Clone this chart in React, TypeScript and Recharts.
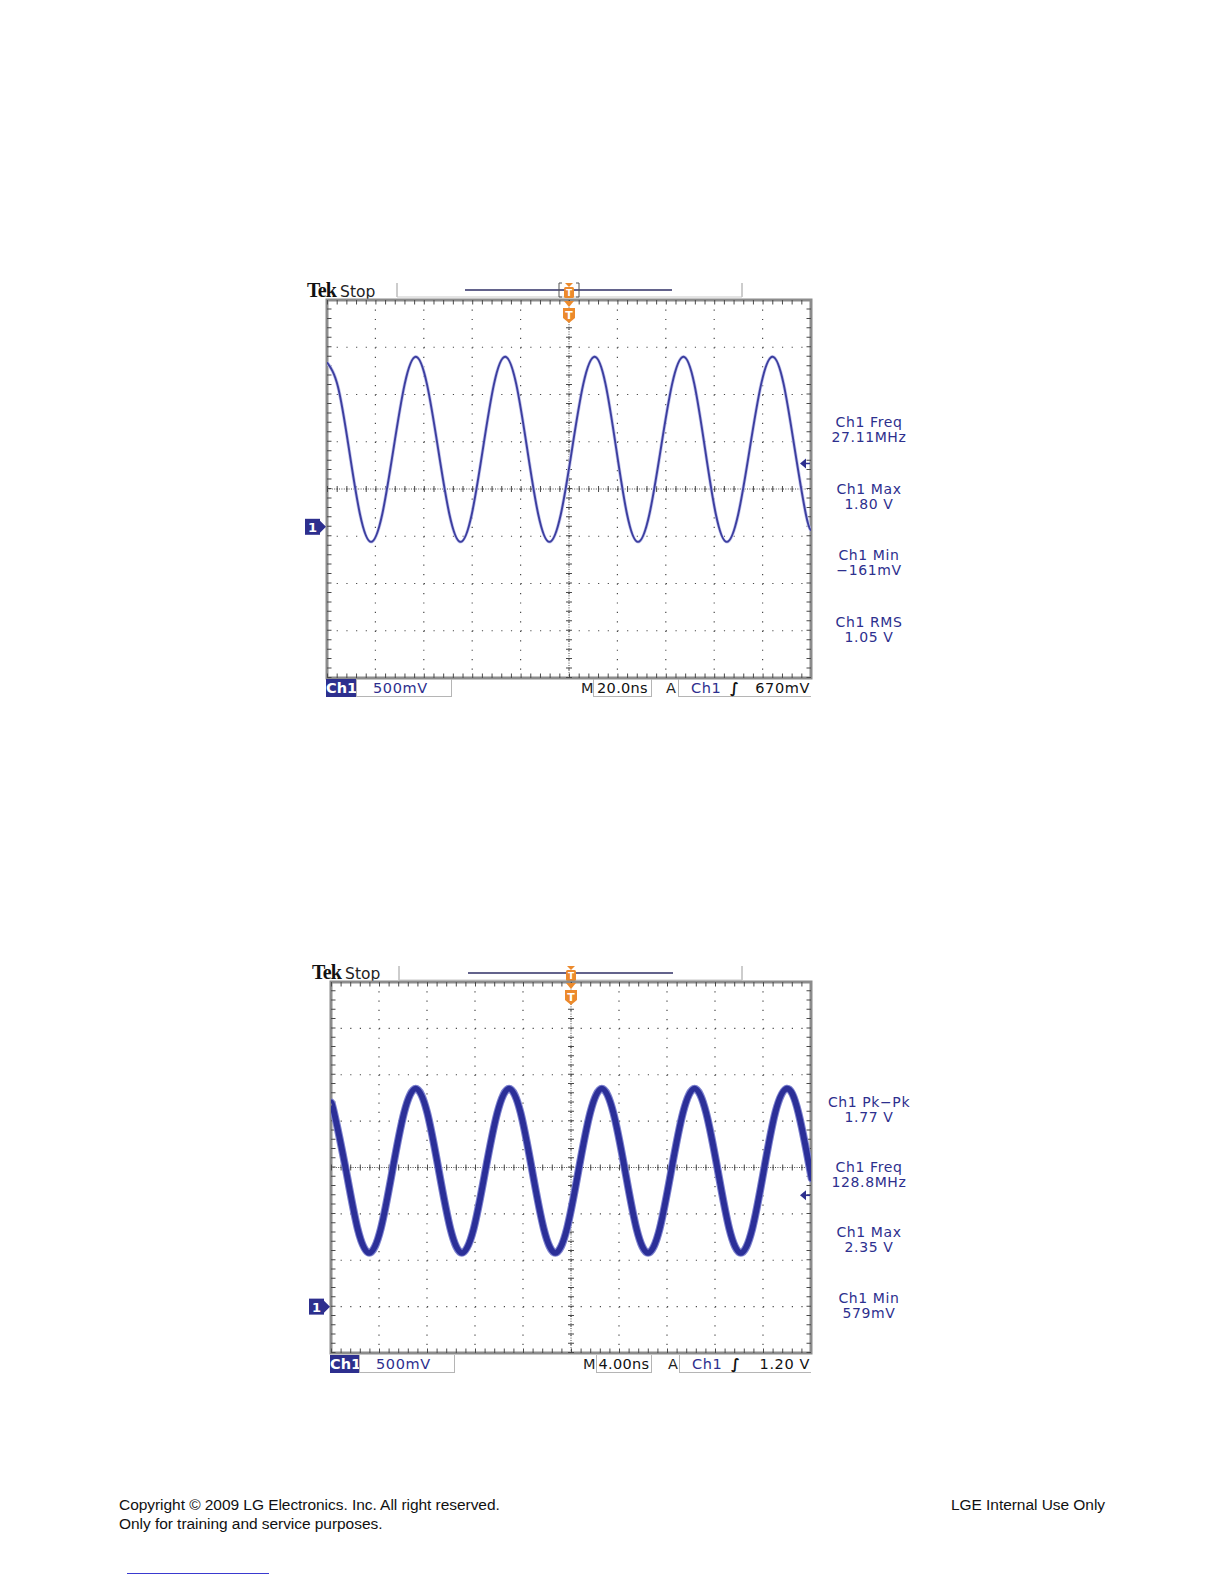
import React from 'react';
import {
  LineChart, Line, XAxis, YAxis, CartesianGrid,
  ReferenceLine, ReferenceArea, ReferenceDot,
} from 'recharts';

// upper capture: 20.0ns/div, 500mV/div, trigger 670mV (times in ns, volts in V)
const upperTimes = [
  -100, -95.45, -90.9, -86.35, -81.8, -77.2, -72.55, -67.9, -63.3, -58.7, -54.05, -49.4,
  -44.8, -40.2, -35.6, -31.0, -26.4, -21.8, -17.25, -12.7, -8.1, -3.4, 1.25, 5.9,
  10.6, 15.1, 19.55, 24.0, 28.5, 33.2, 37.9, 42.6, 47.3, 51.8, 56.25, 60.7,
  65.2, 69.9, 74.65, 79.4, 84.1, 88.7, 93.3, 97.9, 100,
];
const upperVolts = [
  1.74, 1.48, 0.82, 0.13, -0.16, 0.13, 0.82, 1.51, 1.80, 1.51, 0.82, 0.13,
  -0.16, 0.13, 0.82, 1.51, 1.80, 1.51, 0.82, 0.13, -0.16, 0.13, 0.82, 1.51,
  1.80, 1.51, 0.82, 0.13, -0.16, 0.13, 0.82, 1.51, 1.80, 1.51, 0.82, 0.13,
  -0.16, 0.13, 0.82, 1.51, 1.80, 1.51, 0.82, 0.13, -0.04,
];
const upperTimeTicks = [-100, -80, -60, -40, -20, 0, 20, 40, 60, 80, 100];
const upperVoltTicks = [-1.6, -1.1, -0.6, -0.1, 0.4, 0.9, 1.4, 1.9, 2.4];
const upperMeasures = [
  ['Ch1 Freq', '27.11MHz'],
  ['Ch1 Max', '1.80 V'],
  ['Ch1 Min', '\u2212161mV'],
  ['Ch1 RMS', '1.05 V'],
];
const upperReadout = ['500mV', '20.0ns', '670mV'];
const upperTrigLevel = 0.67;

// lower capture: 4.00ns/div, 500mV/div, trigger 1.20V
const lowerTimes = [
  -20, -19.72, -18.75, -17.78, -16.82, -15.85, -14.88, -13.91, -12.94, -11.98, -11.02, -10.05,
  -9.09, -8.11, -7.13, -6.14, -5.16, -4.2, -3.24, -2.27, -1.31, -0.34, 0.63, 1.6,
  2.57, 3.53, 4.5, 5.46, 6.42, 7.39, 8.36, 9.33, 10.3, 11.26, 12.23, 13.19,
  14.15, 15.11, 16.07, 17.02, 17.98, 18.95, 19.92, 20,
];
const lowerVolts = [
  2.2, 2.08, 1.47, 0.84, 0.58, 0.84, 1.47, 2.09, 2.35, 2.09, 1.47, 0.84,
  0.58, 0.84, 1.47, 2.09, 2.35, 2.09, 1.47, 0.84, 0.58, 0.84, 1.47, 2.09,
  2.35, 2.09, 1.47, 0.84, 0.58, 0.84, 1.47, 2.09, 2.35, 2.09, 1.47, 0.84,
  0.58, 0.84, 1.47, 2.09, 2.35, 2.09, 1.47, 1.42,
];
const lowerTimeTicks = [-20, -16, -12, -8, -4, 0, 4, 8, 12, 16, 20];
const lowerVoltTicks = [-0.5, 0, 0.5, 1, 1.5, 2, 2.5, 3, 3.5];
const lowerMeasures = [
  ['Ch1 Pk\u2212Pk', '1.77 V'],
  ['Ch1 Freq', '128.8MHz'],
  ['Ch1 Max', '2.35 V'],
  ['Ch1 Min', '579mV'],
];
const lowerReadout = ['500mV', '4.00ns', '1.20 V'];
const lowerTrigLevel = 1.2;

const footerLeft = ['Copyright \u00a9 2009 LG Electronics. Inc. All right reserved.', 'Only for training and service purposes.'];
const footerRight = 'LGE Internal Use Only';

const SCOPE_FONT = '"DejaVu Sans", Verdana, sans-serif';
const NAVY = '#2d2f8e';
const ORANGE = '#ec8a2c';
const DOT = '#4a4a4a';

const trigTimeMark = (props: any) => {
  const { cx, cy } = props;
  return (
    <g>
      <path d={`M${cx - 5},${cy + 1} L${cx + 5},${cy + 1} L${cx},${cy + 7} Z`} fill={ORANGE} />
      <path d={`M${cx - 6},${cy + 8} h12 v10 l-6,5 l-6,-5 Z`} fill={ORANGE} />
      <text x={cx} y={cy + 19} textAnchor="middle" fill="#fff" fontSize={11} fontWeight="bold" fontFamily={SCOPE_FONT}>T</text>
    </g>
  );
};

const groundMark = (props: any) => {
  const { cx, cy } = props;
  return (
    <g>
      <rect x={cx - 22} y={cy - 8} width={15} height={16} fill={NAVY} />
      <path d={`M${cx - 7},${cy - 6} L${cx - 1},${cy} L${cx - 7},${cy + 6} Z`} fill={NAVY} />
      <text x={cx - 14.5} y={cy + 5} textAnchor="middle" fill="#fff" fontSize={13} fontWeight="bold" fontFamily={SCOPE_FONT}>1</text>
    </g>
  );
};

const trigLevelMark = (props: any) => {
  const { cx, cy } = props;
  return (
    <g>
      <path d={`M${cx - 11},${cy} L${cx - 5},${cy - 5} L${cx - 5},${cy + 5} Z`} fill={NAVY} />
      <line x1={cx - 6} y1={cy} x2={cx - 1} y2={cy} stroke={NAVY} strokeWidth={1.5} />
    </g>
  );
};

function Scope(p: any) {
  const { left, top, width, height } = p.frame;
  const ml = 26, mr = 14, mt = 4, mb = 4;
  const data = p.times.map((t: number, i: number) => ({ t, v: p.volts[i] }));
  const x0 = p.xTicks[0], x1 = p.xTicks[p.xTicks.length - 1];
  const y0 = p.yTicks[0], y1 = p.yTicks[p.yTicks.length - 1];
  const xMid = p.xTicks[(p.xTicks.length - 1) / 2];
  const yMid = p.yTicks[(p.yTicks.length - 1) / 2];
  const stepX = width / 50;
  const stepY = height / 40;
  const b = p.boxes;
  const rowText: React.CSSProperties = { position: 'absolute', top: b.top, height: b.h, lineHeight: `${b.h}px`, fontFamily: SCOPE_FONT, fontSize: 14.5, letterSpacing: 0.6, whiteSpace: 'nowrap' };
  const boxed: React.CSSProperties = { ...rowText, boxSizing: 'border-box', border: '1px solid #b5b5b5', borderTop: 'none' };

  return (
    <>
      {/* header */}
      <div style={{ position: 'absolute', left: p.tek[0], top: p.tek[1] - 11, height: 22, lineHeight: '22px', whiteSpace: 'nowrap' }}>
        <span style={{ fontFamily: '"Liberation Serif", serif', fontWeight: 'bold', fontSize: 20, letterSpacing: -0.8, color: '#111' }}>Tek</span>
        <span style={{ fontFamily: SCOPE_FONT, fontSize: 15.5, marginLeft: 4, color: '#222' }}>Stop</span>
      </div>
      <svg style={{ position: 'absolute', left: 0, top: 0, overflow: 'visible' }} width={1} height={1}>
        <line x1={p.bar[0]} y1={p.bar[4] - 7} x2={p.bar[0]} y2={p.bar[4] + 7} stroke="#9a9a9a" strokeWidth={1} />
        <line x1={p.bar[1]} y1={p.bar[4] - 7} x2={p.bar[1]} y2={p.bar[4] + 7} stroke="#9a9a9a" strokeWidth={1} />
        <line x1={p.bar[0]} y1={p.bar[4] + 7} x2={p.bar[1]} y2={p.bar[4] + 7} stroke="#c8c8c8" strokeWidth={1} />
        <line x1={p.bar[2]} y1={p.bar[4]} x2={p.bar[3]} y2={p.bar[4]} stroke="#2f2f66" strokeWidth={1.3} />
        {p.bracket && (
          <path d={`M${p.bar[5] - 7},${p.bar[4] - 7} h-3 v14 h3 M${p.bar[5] + 7},${p.bar[4] - 7} h3 v14 h-3`} stroke="#555" fill="none" strokeWidth={1} />
        )}
        <path d={`M${p.bar[5] - 4},${p.bar[4] - 7} h8 l-4,4 Z`} fill={ORANGE} />
        <rect x={p.bar[5] - 5} y={p.bar[4] - 3} width={10} height={11} rx={1.5} fill={ORANGE} />
        <text x={p.bar[5]} y={p.bar[4] + 6} textAnchor="middle" fill="#fff" fontSize={9} fontWeight="bold" fontFamily={SCOPE_FONT}>T</text>
      </svg>

      {/* screen */}
      <div style={{ position: 'absolute', left: left - ml, top: top - mt }}>
        <LineChart width={width + ml + mr} height={height + mt + mb} data={data} margin={{ top: mt, right: mr, bottom: mb, left: ml }}>
          <XAxis type="number" dataKey="t" domain={[x0, x1]} ticks={p.xTicks} hide allowDataOverflow />
          <YAxis type="number" domain={[y0, y1]} ticks={p.yTicks} hide allowDataOverflow />
          <CartesianGrid vertical={false} stroke={DOT} strokeWidth={1.2} strokeDasharray={`1.2 ${stepX - 1.2}`} />
          <CartesianGrid horizontal={false} stroke={DOT} strokeWidth={1.2} strokeDasharray={`1.2 ${stepY - 1.2}`} />
          <ReferenceLine x={xMid} stroke={DOT} strokeDasharray="1 1.4" />
          <ReferenceLine y={yMid} stroke={DOT} strokeDasharray="1 1.4" />
          <ReferenceLine x={xMid} stroke={DOT} strokeWidth={6} strokeDasharray={`1 ${stepY - 1}`} />
          <ReferenceLine y={yMid} stroke={DOT} strokeWidth={6} strokeDasharray={`1 ${stepX - 1}`} />
          <ReferenceLine x={x0} stroke={DOT} strokeWidth={9} strokeDasharray={`1 ${stepY - 1}`} ifOverflow="hidden" />
          <ReferenceLine x={x1} stroke={DOT} strokeWidth={9} strokeDasharray={`1 ${stepY - 1}`} ifOverflow="hidden" />
          <ReferenceLine y={y0} stroke={DOT} strokeWidth={9} strokeDasharray={`1 ${stepX - 1}`} ifOverflow="hidden" />
          <ReferenceLine y={y1} stroke={DOT} strokeWidth={9} strokeDasharray={`1 ${stepX - 1}`} ifOverflow="hidden" />
          <Line dataKey="v" type="natural" stroke={p.halo} strokeWidth={p.haloW} dot={false} isAnimationActive={false} />
          <Line dataKey="v" type="natural" stroke={p.core} strokeWidth={p.coreW} dot={false} isAnimationActive={false} />
          <ReferenceArea x1={x0} x2={x1} y1={y0} y2={y1} fill="none" fillOpacity={0} stroke="#8c8c8c" strokeWidth={3} />
          <ReferenceDot x={xMid} y={y1} r={1} shape={trigTimeMark} />
          <ReferenceDot x={x0} y={0} r={1} shape={groundMark} />
          <ReferenceDot x={x1} y={p.trigLevel} r={1} shape={trigLevelMark} />
        </LineChart>
      </div>

      {/* measurements */}
      {p.measures.map((m: string[], i: number) => (
        <div key={i} style={{ position: 'absolute', left: 809, width: 120, top: p.measTop + i * p.measGap - 8, textAlign: 'center', fontFamily: SCOPE_FONT, fontSize: 14, letterSpacing: 0.6, lineHeight: '15px', color: NAVY, whiteSpace: 'nowrap' }}>
          <div>{m[0]}</div>
          <div>{m[1]}</div>
        </div>
      ))}

      {/* readout row */}
      <div style={{ ...rowText, left: b.ch1[0], width: b.ch1[1] - b.ch1[0], background: NAVY, color: '#fff', fontWeight: 'bold', textAlign: 'center', letterSpacing: 0 }}>Ch1</div>
      <div style={{ ...boxed, left: b.vdiv[0], width: b.vdiv[1] - b.vdiv[0], color: NAVY, paddingLeft: 16 }}>{p.readout[0]}</div>
      <div style={{ ...rowText, left: b.m, color: '#222' }}>M</div>
      <div style={{ ...boxed, left: b.tdiv[0], width: b.tdiv[1] - b.tdiv[0], color: '#111', textAlign: 'center', letterSpacing: 0.3 }}>{p.readout[1]}</div>
      <div style={{ ...rowText, left: b.a, color: '#222' }}>A</div>
      <div style={{ ...boxed, left: b.trig[0], width: b.trig[1] - b.trig[0], borderRight: 'none' }}>
        <span style={{ position: 'absolute', left: 12, color: NAVY }}>Ch1</span>
        <span style={{ position: 'absolute', left: 51, color: '#111', fontStyle: 'italic', fontWeight: 'bold' }}>{'\u222b'}</span>
        <span style={{ position: 'absolute', right: 1, color: '#111' }}>{p.readout[2]}</span>
      </div>
    </>
  );
}

export default function App() {
  const footerFont: React.CSSProperties = { fontFamily: '"Liberation Sans", Arial, sans-serif', fontSize: 15.5, lineHeight: '19px', letterSpacing: -0.05, color: '#111' };
  return (
    <div style={{ position: 'absolute', left: 0, top: 0, width: 1224, height: 1584, background: '#fff', overflow: 'hidden' }}>
      <Scope
        frame={{ left: 327, top: 300, width: 484, height: 378 }}
        times={upperTimes} volts={upperVolts} xTicks={upperTimeTicks} yTicks={upperVoltTicks}
        trigLevel={upperTrigLevel}
        core="#3c3e9f" coreW={1.9} halo="#c3c5ec" haloW={3.4}
        tek={[307, 290]} bar={[397, 742, 465, 672, 290, 569]} bracket
        measures={upperMeasures} measTop={423} measGap={66.7}
        readout={upperReadout}
        boxes={{ top: 679, h: 18, ch1: [326, 356], vdiv: [356, 452], m: 581, tdiv: [593, 652], a: 666, trig: [678, 811] }}
      />
      <Scope
        frame={{ left: 331, top: 982, width: 480, height: 371 }}
        times={lowerTimes} volts={lowerVolts} xTicks={lowerTimeTicks} yTicks={lowerVoltTicks}
        trigLevel={lowerTrigLevel}
        core="#2b2f98" coreW={5.8} halo="#7d82cf" haloW={7.8}
        tek={[312, 972]} bar={[399, 742, 468, 673, 973, 571]} bracket={false}
        measures={lowerMeasures} measTop={1103} measGap={65.2}
        readout={lowerReadout}
        boxes={{ top: 1355, h: 18, ch1: [330, 359], vdiv: [359, 455], m: 583, tdiv: [596, 652], a: 668, trig: [679, 811] }}
      />

      {/* footer */}
      <div style={{ ...footerFont, position: 'absolute', left: 119, top: 1495 }}>
        <div>{footerLeft[0]}</div>
        <div>{footerLeft[1]}</div>
      </div>
      <div style={{ ...footerFont, position: 'absolute', right: 1224 - 1105, top: 1495 }}>
        {footerRight}
      </div>
      <div style={{ position: 'absolute', left: 127, top: 1573, width: 142, height: 1, background: '#3a3ad0' }} />
    </div>
  );
}
